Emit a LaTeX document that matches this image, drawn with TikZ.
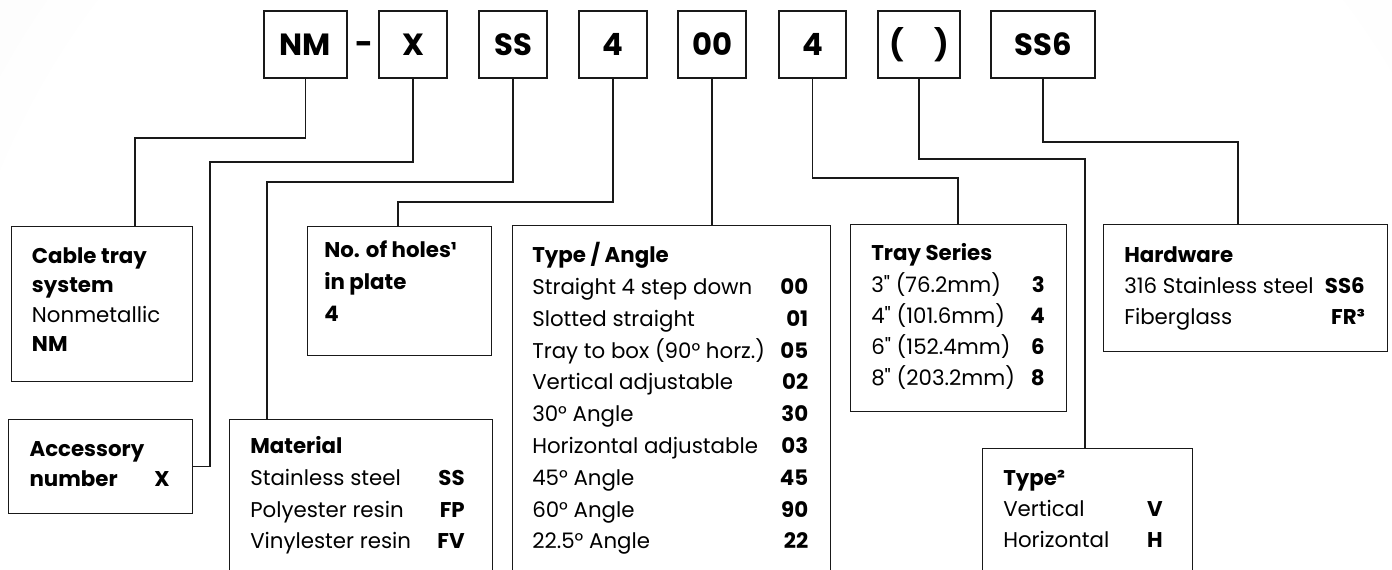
\documentclass[tikz,border=0pt]{standalone}
\usepackage{fontspec}
\setmainfont{Poppins}
\pgfdeclareradialshading{bgglow}{\pgfpoint{0bp}{0bp}}{color(0bp)=(white); color(20bp)=(white); color(50bp)=(black!11)}
\tikzset{
  part/.style={draw=black!90, line width=1pt, fill=white, inner sep=0pt,
    minimum width=#1*0.75pt, minimum height=50.25pt, text height=16pt, text depth=0pt,
    font=\fontsize{23}{23}\selectfont\bfseries},
  infobox/.style 2 args={draw=black!90, line width=1pt, inner sep=0pt, anchor=north west,
    minimum width=#1*0.75pt, minimum height=#2*0.75pt},
  lead/.style={draw=black!90, line width=0.8pt},
  head/.style={anchor=base west, inner sep=0pt, font=\fontsize{16}{19}\selectfont\bfseries},
  item/.style={anchor=base west, inner sep=0pt, font=\fontsize{16}{19}\selectfont},
  code/.style={anchor=base east, inner sep=0pt, font=\fontsize{16}{19}\selectfont\bfseries},
}
\begin{document}
\begin{tikzpicture}[x=0.75pt,y=0.75pt,yscale=-1]
\useasboundingbox (0,0) rectangle (1392,570);
% background
\fill[black!11] (0,0) rectangle (1392,570);
\shade[shading=bgglow] (720,470) circle (950);

% part number
\node[part=83] (p-nm) at (305.5,44.5) {NM};
\node[inner sep=0pt, font=\fontsize{23}{23}\selectfont\bfseries] (p-dash) at (364,48) {-};
\node[part=68] (p-x) at (413,44.5) {X};
\node[part=68] (p-ss) at (513,44.5) {SS};
\node[part=68] (p-holes) at (613,44.5) {4};
\node[part=68] (p-angle) at (712,44.5) {00};
\node[part=67] (p-series) at (812.5,44.5) {4};
\node[part=82] (p-type) at (919,44.5) {(\hspace{1em})};
\node[part=104] (p-hw) at (1043,44.5) {SS6};

% boxes
\node[infobox={181}{155}] (b-cable) at (11,226) {};
\node[infobox={184}{94}] (b-acc) at (8,419) {};
\node[infobox={184}{129}] (b-holes) at (307,226) {};
\node[infobox={263}{181}] (b-mat) at (229,419) {};
\node[infobox={318}{375}] (b-angle) at (512,225) {};
\node[infobox={216}{187}] (b-series) at (850,224) {};
\node[infobox={284}{127}] (b-hw) at (1103,224) {};
\node[infobox={210}{152}] (b-type) at (982,448) {};

% leads
\coordinate (k-nm) at (135,138);
\coordinate (k-x) at (210,162);
\coordinate (k-ss) at (267,182);
\coordinate (k-holes) at (398,202);
\coordinate (k-series) at (958,178);
\coordinate (k-type) at (1085,159);
\coordinate (k-hw) at (1238,142);
\draw[lead] (p-nm.south) |- (k-nm) -- (k-nm |- b-cable.north);
\draw[lead] (p-x.south) |- (k-x) |- (b-acc.east);
\draw[lead] (p-ss.south) |- (k-ss) -- (k-ss |- b-mat.north);
\draw[lead] (p-holes.south) |- (k-holes) -- (k-holes |- b-holes.north);
\draw[lead] (p-angle.south) -- (p-angle.south |- b-angle.north);
\draw[lead] (p-series.south) |- (k-series) -- (k-series |- b-series.north);
\draw[lead] (p-type.south) |- (k-type) -- (k-type |- b-type.north);
\draw[lead] (p-hw.south) |- (k-hw) -- (k-hw |- b-hw.north);

% Cable tray system
\node[head] (t-cable1) at (31.7,263.5) {Cable tray};
\node[head] (t-cable2) at (31.7,292.8) {system};
\node[item] (t-cable3) at (31.7,322.1) {Nonmetallic};
\node[head] (t-cable4) at (31.7,351.4) {NM};

% Accessory number
\node[head] (t-acc1) at (29.3,456) {Accessory};
\node[head] (t-acc2) at (29.3,486) {number};
\node[code] (c-acc) at (170,486) {X};

% No. of holes
\node[head] (t-holes1) at (324,257.6) {No. of holes¹};
\node[head] (t-holes2) at (324,289.3) {in plate};
\node[head] (t-holes3) at (324,321) {4};

% Material
\node[head] (t-mat) at (250,453.4) {Material};
\foreach \lbl/\cd [count=\i] in {Stainless steel/SS, Polyester resin/FP, Vinylester resin/FV}{
  \node[item] (t-mat\i) at (250,453.4+31.8*\i) {\lbl};
  \node[code] (c-mat\i) at (465,453.4+31.8*\i) {\cd};
}

% Type / Angle
\node[head] (t-angle) at (532,262.6) {Type / Angle};
\foreach \lbl/\cd [count=\i] in {Straight 4 step down/00, Slotted straight/01,
    Tray to box (90° horz.)/05, Vertical adjustable/02, 30° Angle/30,
    Horizontal adjustable/03, 45° Angle/45, 60° Angle/90, 22.5° Angle/22}{
  \node[item] (t-angle\i) at (532,262.6+31.8*\i) {\lbl};
  \node[code] (c-angle\i) at (808.5,262.6+31.8*\i) {\cd};
}

% Tray Series
\node[head] (t-series) at (871,261) {Tray Series};
\foreach \lbl/\cd [count=\i] in {3\textquotedbl{} (76.2mm)/3, 4\textquotedbl{} (101.6mm)/4,
    6\textquotedbl{} (152.4mm)/6, 8\textquotedbl{} (203.2mm)/8}{
  \node[item] (t-series\i) at (871,261+31.2*\i) {\lbl};
  \node[code] (c-series\i) at (1045,261+31.2*\i) {\cd};
}

% Hardware
\node[head] (t-hw) at (1124,262.6) {Hardware};
\foreach \lbl/\cd [count=\i] in {316 Stainless steel/SS6, Fiberglass/FR³}{
  \node[item] (t-hw\i) at (1124,262.6+31*\i) {\lbl};
  \node[code] (c-hw\i) at (1365,262.6+31*\i) {\cd};
}

% Type
\node[head] (t-type) at (1003,485) {Type²};
\foreach \lbl/\cd [count=\i] in {Vertical/V, Horizontal/H}{
  \node[item] (t-type\i) at (1003,485+31.3*\i) {\lbl};
  \node[code] (c-type\i) at (1163,485+31.3*\i) {\cd};
}
\end{tikzpicture}
\end{document}
